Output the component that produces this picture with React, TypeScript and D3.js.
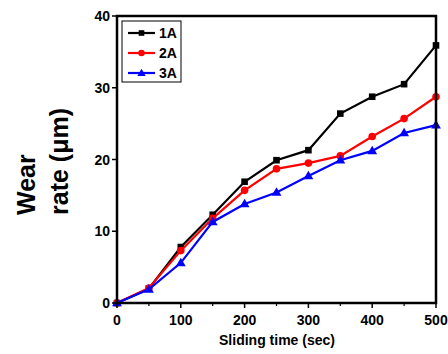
import React from "react";
import * as d3 from "d3";

const times = [0, 50, 100, 150, 200, 250, 300, 350, 400, 450, 500];
const series1A = [0, 2.0, 7.8, 12.3, 16.9, 19.9, 21.3, 26.4, 28.75, 30.5, 35.9];
const series2A = [0, 2.1, 7.3, 11.8, 15.7, 18.7, 19.5, 20.5, 23.2, 25.7, 28.75];
const series3A = [0, 1.9, 5.6, 11.3, 13.8, 15.4, 17.7, 19.9, 21.2, 23.7, 24.8];
const seriesNames = ["1A", "2A", "3A"];
const seriesColors = ["#000000", "#ff0000", "#0000ff"];
const xTicks = [0, 100, 200, 300, 400, 500];
const xMinorTicks = [50, 150, 250, 350, 450];
const yTicks = [0, 10, 20, 30, 40];

const W = 448;
const H = 354;
const left = 117;
const right = 436;
const top = 16;
const bottom = 303;

export default function App() {
  const x = d3.scaleLinear().domain([0, 500]).range([left, right]);
  const y = d3.scaleLinear().domain([0, 40]).range([bottom, top]);
  const all = [series1A, series2A, series3A];
  const line = d3
    .line<number>()
    .x((_, i) => x(times[i]))
    .y((d) => y(d));
  const font = "'Liberation Sans', Arial, sans-serif";

  const marker = (k: number, cx: number, cy: number, key: string, s = 1) => {
    const c = seriesColors[k];
    if (k === 0) {
      const a = 3.3 * s;
      return <rect key={key} x={cx - a} y={cy - a} width={2 * a} height={2 * a} fill={c} />;
    }
    if (k === 1) return <circle key={key} cx={cx} cy={cy} r={3.8 * s} fill={c} />;
    const sym = d3.symbol(d3.symbolTriangle, 42 * s * s)();
    return <path key={key} d={sym || ""} transform={`translate(${cx},${cy + 0.5})`} fill={c} />;
  };

  return (
    <svg
      width={W}
      height={H}
      style={{ position: "absolute", left: 0, top: 0, background: "#fff" }}
      fontFamily={font}
    >
      <rect x={0} y={0} width={W} height={H} fill="#fff" />
      {/* series */}
      {all.map((s, k) => (
        <g key={k}>
          <path d={line(s) || ""} fill="none" stroke={seriesColors[k]} strokeWidth={2.2} />
          {s.map((v, i) => marker(k, x(times[i]), y(v), `m${k}-${i}`))}
        </g>
      ))}
      {/* frame */}
      <rect x={left} y={top} width={right - left} height={bottom - top} fill="none" stroke="#000" strokeWidth={2.5} />
      {/* x ticks */}
      {xTicks.map((t) => (
        <g key={`xt${t}`}>
          <line x1={x(t)} x2={x(t)} y1={bottom} y2={bottom + 5} stroke="#000" strokeWidth={1.5} />
          <text x={x(t)} y={325} textAnchor="middle" fontSize={14} fontWeight="bold">
            {t}
          </text>
        </g>
      ))}
      {xMinorTicks.map((t) => (
        <line key={`xm${t}`} x1={x(t)} x2={x(t)} y1={bottom} y2={bottom + 3} stroke="#000" strokeWidth={1.2} />
      ))}
      {/* y ticks */}
      {yTicks.map((t) => (
        <g key={`yt${t}`}>
          <line x1={left - 5} x2={left} y1={y(t)} y2={y(t)} stroke="#000" strokeWidth={1.5} />
          <text x={110} y={y(t) + 5} textAnchor="end" fontSize={14} fontWeight="bold">
            {t}
          </text>
        </g>
      ))}
      {/* axis titles */}
      <text x={277} y={345} textAnchor="middle" fontSize={14} fontWeight="bold">
        Sliding time (sec)
      </text>
      <text transform="translate(35,215) rotate(-90)" fontSize={25} fontWeight="bold">
        Wear
      </text>
      <text transform="translate(68,215) rotate(-90)" fontSize={25} fontWeight="bold">
        rate (μm)
      </text>
      {/* legend */}
      <rect x={122} y={21} width={59} height={61} fill="#fff" stroke="#000" strokeWidth={1} />
      {seriesNames.map((n, k) => {
        const ly = 33 + k * 20;
        return (
          <g key={n}>
            <line x1={128} x2={155} y1={ly} y2={ly} stroke={seriesColors[k]} strokeWidth={2.2} />
            {marker(k, 141.5, ly, `lm${k}`, 0.85)}
            <text x={159} y={ly + 5} fontSize={14} fontWeight="bold">
              {n}
            </text>
          </g>
        );
      })}
    </svg>
  );
}
